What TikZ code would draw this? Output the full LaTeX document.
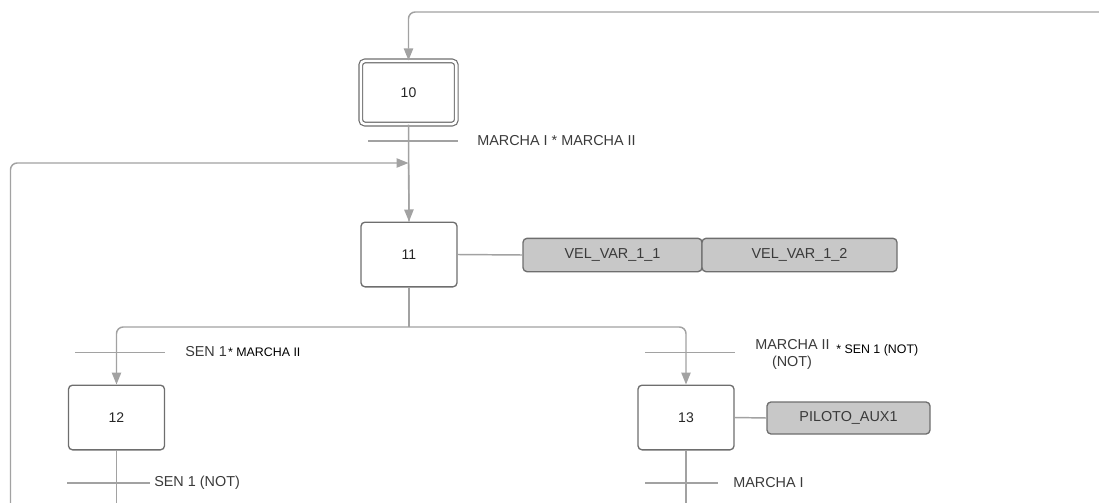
\documentclass[tikz,border=0pt]{standalone}
\usepackage{fontspec}
\setmainfont{Liberation Sans}
\usetikzlibrary{arrows.meta}
\definecolor{lineg}{HTML}{A2A2A2}
\definecolor{boxg}{HTML}{6E6E6E}
\definecolor{actfill}{HTML}{C8C8C8}
\definecolor{txtg}{HTML}{3A3A3A}
\begin{document}
\begin{tikzpicture}[x=0.75pt,y=-0.75pt,
  conn/.style={draw=lineg,line width=1.1pt},
  arr/.style={conn,-{Triangle[length=9pt,width=7pt]},rounded corners=5pt},
  trans/.style={draw=lineg,line width=1.1pt},
  stepbox/.style={draw=boxg,line width=1pt,rounded corners=3pt,fill=white,
    minimum width=72pt,minimum height=48.5pt,inner sep=0pt,
    font=\fontsize{10.5}{12}\selectfont,text=black!85},
  initbox/.style={stepbox,double=white,double distance=1.9pt,line width=0.9pt,
    minimum width=71.6pt,minimum height=47.3pt},
  actbox/.style={draw=boxg,line width=1pt,rounded corners=3pt,fill=actfill,
    minimum height=25pt,inner sep=0pt,font=\fontsize{10.8}{13}\selectfont,text=txtg},
  lbl/.style={anchor=west,inner sep=0pt,font=\fontsize{10.8}{13}\selectfont,text=txtg},
  slbl/.style={anchor=west,inner sep=0pt,font=\fontsize{9.3}{11}\selectfont,text=black}
]
\useasboundingbox (0,0) rectangle (1099,503);

% steps
\node[initbox] (s10) at (408.5,92.5) {10};
\node[stepbox] (s11) at (409,254.5) {11};
\node[stepbox] (s12) at (116.5,417.5) {12};
\node[stepbox] (s13) at (686,417.5) {13};

% actions
\node[actbox,minimum width=134.25pt] (a1) at (612.5,255) {VEL\_VAR\_1\_1};
\node[actbox,minimum width=146.25pt] (a2) at (799.5,255) {VEL\_VAR\_1\_2};
\node[actbox,minimum width=122.25pt,minimum height=24pt] (p1) at (848.5,418) {PILOTO\_AUX1};

% coordinates
\coordinate (topR) at (1100,12);
\coordinate (botL) at (10.5,504);
\coordinate (join) at (408.5,163);
\coordinate (fork) at (409,327);
\coordinate (b12) at (116.5,504);
\coordinate (b13) at (686,504);

% connectors
\draw[arr] (topR) -| (s10.north);
\draw[conn] (s10.south) -- (s11.north);
\draw[arr] (botL) |- (join);
\draw[arr] (join) -- (s11.north);
\draw[conn] (s11.south) -- (fork);
\draw[arr] (fork) -| (s12.north);
\draw[arr] (fork) -| (s13.north);
\draw[conn] (s11.east) -- (a1.west);
\draw[conn] (s13.east) -- (p1.west);
\draw[conn] (s12.south) -- (b12);
\draw[conn] (s13.south) -- (b13);

% transitions
\draw[trans] (368,141) -- (458,141);
\node[lbl] (t1) at (477,141) {MARCHA I * MARCHA II};

\draw[trans] (75,352.5) -- (165,352.5);
\node[lbl] (t2) at (185,352) {SEN 1};
\node[slbl,anchor=base west] (t2b) at ([xshift=0.5pt]t2.base east) {* MARCHA II};

\draw[trans] (645,352.5) -- (735,352.5);
\node[lbl] (t3) at (755,345) {MARCHA II};
\node[lbl,anchor=center] (t3b) at (792,363) {(NOT)};
\node[slbl] (t3c) at (836,350) {* SEN 1 (NOT)};

\draw[trans] (67,483) -- (150,483);
\node[lbl] (t4) at (154,482.5) {SEN 1 (NOT)};

\draw[trans] (645,483) -- (718,483);
\node[lbl] (t5) at (733,482.5) {MARCHA I};
\end{tikzpicture}
\end{document}
